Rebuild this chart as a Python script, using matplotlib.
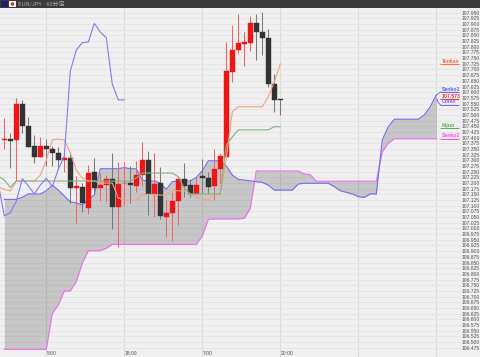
import numpy as np
import matplotlib

matplotlib.use("Agg")
from matplotlib import pyplot as plt
from matplotlib.patches import Rectangle, Circle

# candles, one hour each
opens = [107.389, 107.392, 107.389, 107.547, 107.451, 107.363, 107.313, 107.364, 107.350, 107.332,
         107.301, 107.310, 107.180, 107.181, 107.089, 107.247, 107.180, 107.193, 107.218, 107.096,
         107.199, 107.202, 107.188, 107.234, 107.301, 107.150, 107.199, 107.049, 107.069, 107.120,
         107.219, 107.190, 107.152, 107.230, 107.221, 107.186, 107.261, 107.316, 107.690, 107.786,
         107.814, 107.818, 107.903, 107.865, 107.839, 107.636, 107.570]
closes = [107.392, 107.386, 107.547, 107.451, 107.357, 107.313, 107.363, 107.349, 107.332, 107.301,
          107.310, 107.180, 107.187, 107.111, 107.243, 107.180, 107.191, 107.218, 107.096, 107.196,
          107.202, 107.190, 107.234, 107.301, 107.150, 107.196, 107.055, 107.069, 107.120, 107.219,
          107.187, 107.152, 107.191, 107.221, 107.184, 107.261, 107.319, 107.693, 107.786, 107.818,
          107.821, 107.903, 107.865, 107.839, 107.636, 107.566, 107.566]
highs = [107.486, 107.422, 107.573, 107.566, 107.492, 107.412, 107.401, 107.393, 107.363, 107.360,
         107.345, 107.338, 107.231, 107.202, 107.279, 107.309, 107.244, 107.235, 107.331, 107.294,
         107.294, 107.275, 107.298, 107.382, 107.342, 107.332, 107.272, 107.125, 107.162, 107.225,
         107.287, 107.219, 107.225, 107.307, 107.250, 107.350, 107.334, 107.821, 107.896, 107.946,
         107.865, 107.936, 107.946, 107.953, 107.877, 107.680, 107.570]
lows = [107.350, 107.266, 107.209, 107.422, 107.357, 107.290, 107.313, 107.275, 107.275, 107.261,
        107.249, 107.113, 107.025, 107.074, 107.064, 107.155, 107.122, 107.118, 106.996, 106.917,
        107.103, 107.111, 107.162, 107.187, 107.059, 107.052, 107.040, 106.964, 106.946, 107.015,
        107.140, 107.140, 107.152, 107.155, 107.157, 107.125, 107.200, 107.316, 107.646, 107.768,
        107.717, 107.783, 107.742, 107.764, 107.624, 107.514, 107.500]

# ichimoku lines, tenkan and kijun start one hour before the first candle
tenkan = [107.183, 107.172, 107.165, 107.209, 107.209, 107.209, 107.209, 107.235, 107.301, 107.390,
          107.393, 107.390, 107.332, 107.257, 107.221, 107.209, 107.209, 107.200, 107.200, 107.200,
          107.134, 107.125, 107.125, 107.125, 107.150, 107.150, 107.150, 107.147, 107.147, 107.166,
          107.166, 107.166, 107.152, 107.140, 107.130, 107.125, 107.147, 107.150, 107.310, 107.514,
          107.536, 107.536, 107.536, 107.536, 107.536, 107.580, 107.646, 107.724]
kijun = [107.231, 107.213, 107.181, 107.209, 107.209, 107.209, 107.209, 107.209, 107.209, 107.209,
         107.209, 107.209, 107.209, 107.209, 107.209, 107.209, 107.209, 107.209, 107.209, 107.209,
         107.209, 107.209, 107.209, 107.222, 107.244, 107.244, 107.244, 107.244, 107.244, 107.244,
         107.228, 107.178, 107.152, 107.152, 107.152, 107.152, 107.152, 107.152, 107.368, 107.403,
         107.434, 107.434, 107.434, 107.434, 107.434, 107.434, 107.448, 107.448]
senkou1 = [107.128, 107.128, 107.128, 107.137, 107.152, 107.152, 107.152, 107.166, 107.191, 107.169,
           107.143, 107.117, 107.113, 107.103, 107.128, 107.147, 107.263, 107.263, 107.263, 107.263,
           107.268, 107.263, 107.263, 107.213, 107.209, 107.209, 107.200, 107.172, 107.206, 107.209,
           107.209, 107.209, 107.225, 107.254, 107.298, 107.298, 107.298, 107.275, 107.235, 107.216,
           107.213, 107.210, 107.206, 107.203, 107.191, 107.169, 107.169, 107.169, 107.169, 107.196,
           107.199, 107.199, 107.199, 107.199, 107.199, 107.184, 107.166, 107.159, 107.152, 107.140,
           107.137, 107.152, 107.152, 107.390, 107.448, 107.481, 107.481, 107.481, 107.481, 107.481,
           107.500, 107.536, 107.588]
senkou2 = [106.468, 106.468, 106.468, 106.468, 106.468, 106.468, 106.468, 106.468, 106.626, 106.663,
           106.725, 106.725, 106.766, 106.847, 106.902, 106.902, 106.902, 106.913, 106.930, 106.930,
           106.930, 106.930, 106.930, 106.930, 106.930, 106.930, 106.930, 106.930, 106.930, 106.930,
           106.930, 106.930, 106.930, 106.967, 107.040, 107.042, 107.042, 107.042, 107.042, 107.042,
           107.045, 107.089, 107.253, 107.253, 107.253, 107.253, 107.253, 107.253, 107.253, 107.253,
           107.240, 107.237, 107.208, 107.208, 107.208, 107.208, 107.208, 107.208, 107.208, 107.208,
           107.208, 107.208, 107.208, 107.338, 107.376, 107.395, 107.395, 107.395, 107.395, 107.395,
           107.395, 107.395, 107.395]

time_ticks = [7, 20, 33, 46, 59, 72]
time_labels = ["5:00", "18:00", "7:00", "20:00", "", ""]
line_labels = ["Tenkan", "Senko1", "107.573", "Chiko", "Kijun", "Senko2"]
label_prices = [107.724, 107.601, 107.570, 107.544, 107.442, 107.395]
label_colors = ["#ff6a3a", "#5a5af0", "#f03030", "#8060f0", "#60a860", "#f050e8"]

opens = np.array(opens)
closes = np.array(closes)
highs = np.array(highs)
lows = np.array(lows)
x = np.arange(len(opens))
up = closes >= opens

fig = plt.figure(figsize=(4.8, 3.57), dpi=100, facecolor="#f0f0f0")
ax = fig.add_axes([0, 0, 1, 1], facecolor="#f0f0f0")

# cloud
x_cloud = np.arange(len(senkou1))
ax.fill_between(x_cloud, senkou1, senkou2, color="k", alpha=0.17, lw=0, zorder=1)
ax.plot(x_cloud, senkou2, color="#f070f0", lw=0.85, zorder=2)
ax.plot(x_cloud, senkou1, color="#7272ee", lw=0.85, zorder=2)

# candles
ax.vlines(x[up], lows[up], highs[up], color="#f06464", lw=0.75, zorder=3)
ax.vlines(x[~up], lows[~up], highs[~up], color="#7a7a7a", lw=0.75, zorder=3)
ax.bar(x[up], (closes - opens)[up], bottom=opens[up], width=0.8, color="#f01414",
       edgecolor="#f01414", lw=0.3, zorder=4)
ax.bar(x[~up], (closes - opens)[~up], bottom=opens[~up], width=0.8, color="#333333",
       edgecolor="#333333", lw=0.3, zorder=4)

# the other lines, chikou is the close moved back 26 hours
ax.plot(np.arange(-1, len(tenkan) - 1), tenkan, color="#f0a484", lw=0.8, zorder=5)
ax.plot(np.arange(-1, len(kijun) - 1), kijun, color="#80b480", lw=0.8, zorder=5)
ax.plot(x[25:] - 26, closes[25:], color="#8a7af0", lw=0.8, zorder=5)

# line labels on the right
for name, price, col in zip(line_labels, label_prices, label_colors):
    ax.hlines(price, 72.6, 75.8, color=col, lw=0.7, zorder=5)
    ax.text(72.95, price + 0.002, name, color=col, fontsize=3.7, family="Liberation Sans",
            weight="bold", va="bottom", ha="left", zorder=6)
ax.plot([72, 72.7], [107.588, 107.601], color="#7272ee", lw=0.7, zorder=5)
ax.plot([72.1, 72.3, 72.7], [107.570, 107.556, 107.544], color="#8060f0", lw=0.7, zorder=5)

ax.set_xlim(-4.3 / 6, 475.7 / 6)
ax.set_ylim(106.434, 108.006)

yticks = 106.475 + 0.025 * np.arange(60)
ax.set_yticks(yticks)
ax.set_yticklabels([f"{v:.3f}" for v in yticks], fontsize=3.6, family="Liberation Sans", color="#555555")
ax.yaxis.tick_right()
ax.tick_params(axis="y", length=0, pad=-13.3)

ax.set_xticks(time_ticks)
ax.set_xticklabels(time_labels, fontsize=3.6, family="Liberation Sans", color="#555555", ha="left")
ax.tick_params(axis="x", length=0, pad=-4)

ax.set_axisbelow(True)
ax.yaxis.grid(True, color="#e6e6e6", lw=0.8)
ax.xaxis.grid(True, color="#dcdcdc", lw=0.8)
for side in ["top", "left", "bottom"]:
    ax.spines[side].set_visible(False)
ax.spines["right"].set_color("#bbbbbb")
ax.spines["right"].set_linewidth(0.7)

# title bar with the two flags
H = 357
W = 480
fig.add_artist(Rectangle((0, 1 - 8 / H), 1, 8 / H, transform=fig.transFigure, color="#3a3a3a", lw=0))
fig.add_artist(Rectangle((1 / W, 1 - 7 / H), 7 / W, 6 / H, transform=fig.transFigure, color="#20206a", lw=0))
fig.add_artist(Rectangle((9 / W, 1 - 7 / H), 7 / W, 6 / H, transform=fig.transFigure, color="#f4f4f4", lw=0))
fig.add_artist(Circle((12.5, H - 4), 1.7, transform=None, color="#d02020", lw=0))
fig.text(18 / W, 1 - 4 / H, "EUR/JPY - 60分足", color="#b0b0b0", fontsize=4.2, va="center",
         family=["Noto Sans CJK JP", "DejaVu Sans"])

fig.savefig("out.png", dpi=100, facecolor=fig.get_facecolor())
